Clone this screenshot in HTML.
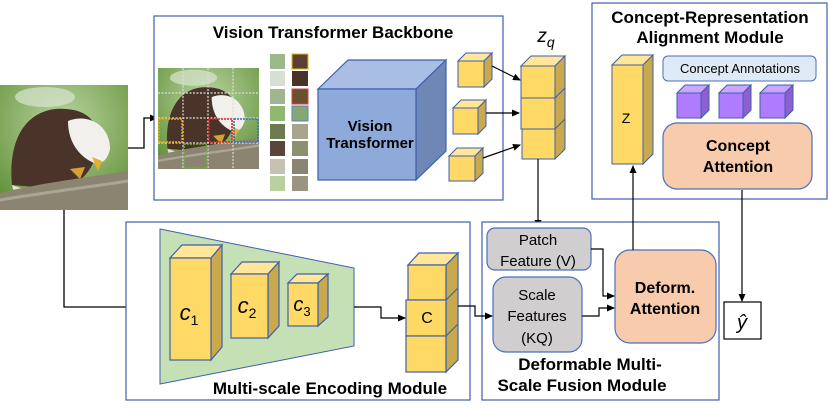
<!DOCTYPE html>
<html><head><meta charset="utf-8"><style>
html,body{margin:0;padding:0;background:#fff;width:830px;height:408px;overflow:hidden}
svg{display:block}
text{font-family:"Liberation Sans",sans-serif}
</style></head><body>
<svg width="830" height="408" viewBox="0 0 830 408" xmlns="http://www.w3.org/2000/svg">
<defs>
<marker id="ah" markerWidth="8" markerHeight="8" refX="7" refY="4" orient="auto" markerUnits="userSpaceOnUse"><path d="M0,0.5 L8,4 L0,7.5 z" fill="#000"/></marker>
<radialGradient id="bg" cx="0.5" cy="0.3" r="0.8"><stop offset="0" stop-color="#b9d3a0"/><stop offset="1" stop-color="#5e8f34"/></radialGradient>
<symbol id="eagle" viewBox="0 0 128 125" preserveAspectRatio="none">
<rect width="128" height="125" fill="url(#bg)"/>
<ellipse cx="45" cy="12" rx="30" ry="10" fill="#d8e6d0" opacity="0.7"/>
<path d="M12,100 C8,60 22,28 55,24 C85,22 100,35 98,60 C95,85 80,100 60,104 Z" fill="#4a342a"/>
<path d="M68,36 C88,28 110,40 110,64 C108,74 102,80 94,78 C80,72 68,58 68,36Z" fill="#f2f0ec"/>
<path d="M92,72 L102,76 L98,86 Z" fill="#e8b030"/>
<path d="M12,100 L30,106 L14,108Z" fill="#e8e2d0"/>
<path d="M70,84 L85,82 L80,94 Z" fill="#d9a030"/>
<path d="M0,108 C40,98 90,92 128,86 L128,125 L0,125 Z" fill="#8a8470"/>
<path d="M0,115 C40,108 90,102 128,96" stroke="#aaa595" stroke-width="3" fill="none"/>
</symbol>
</defs>

<use href="#eagle" x="0" y="85" width="128" height="125"/>
<path d="M128,148 H144 V118 H157" fill="none" stroke="#000" stroke-width="1.3" marker-end="url(#ah)"/>
<path d="M64,210 V307 H159" fill="none" stroke="#000" stroke-width="1.3" marker-end="url(#ah)"/>

<rect x="154" y="16" width="349" height="184" fill="#fff" stroke="#3f5fa8" stroke-width="1.2"/>
<text x="333" y="38" font-size="17" font-weight="bold" text-anchor="middle">Vision Transformer Backbone</text>
<use href="#eagle" x="158" y="68" width="101" height="101"/>
<g stroke="#ddd" stroke-width="1.2" stroke-dasharray="2,1.5" fill="none">
<path d="M183,68V169M208,68V169M233,68V169M158,93H259M158,118H259M158,143H259"/>
</g>
<g fill="none" stroke-width="1.5" stroke-dasharray="2,1">
<rect x="159" y="119" width="23" height="23" stroke="#e8a800"/>
<rect x="209" y="119" width="23" height="23" stroke="#e02020"/>
<rect x="234" y="119" width="24" height="23" stroke="#3a6fc0"/>
<rect x="184" y="144" width="23" height="24" stroke="#70b040"/>
</g>
<g>
<rect x="270" y="54" width="15" height="15" fill="#9bb88a"/><rect x="292" y="54" width="16" height="15" fill="#5a4030" stroke="#e8b800"/>
<rect x="270" y="71" width="15" height="15" fill="#d7dfd5"/><rect x="292" y="71" width="16" height="15" fill="#4a3428"/>
<rect x="270" y="89" width="15" height="15" fill="#a0b58f"/><rect x="292" y="89" width="16" height="15" fill="#6a5030" stroke="#d04040"/>
<rect x="270" y="106" width="15" height="15" fill="#8fb870"/><rect x="292" y="106" width="16" height="15" fill="#86a870" stroke="#5a80c0"/>
<rect x="270" y="124" width="15" height="15" fill="#6e7a50"/><rect x="292" y="124" width="16" height="15" fill="#a8a490"/>
<rect x="270" y="141" width="15" height="15" fill="#5a4538"/><rect x="292" y="141" width="16" height="15" fill="#8a9070"/>
<rect x="270" y="159" width="15" height="15" fill="#c8c0b0"/><rect x="292" y="159" width="16" height="15" fill="#8a8470"/>
<rect x="270" y="176" width="15" height="15" fill="#b8d0a0"/><rect x="292" y="176" width="16" height="15" fill="#9a9480"/>
</g>
<g stroke="#3f5fa8" stroke-width="1.2">
<path d="M318,89 L348,60 L446,60 L416,89 Z" fill="#a9bee5"/>
<path d="M416,89 L446,60 L446,151 L416,180 Z" fill="#6f87b5"/>
<rect x="318" y="89" width="98" height="91" fill="#8eaadb"/>
</g>
<text x="370" y="131" font-size="15" font-weight="bold" text-anchor="middle">Vision</text>
<text x="370" y="148" font-size="15" font-weight="bold" text-anchor="middle">Transformer</text>

<g stroke="#3f5fa8" stroke-width="1" fill="#ffd966">
<path d="M458,61 l8,-8 h26 l-8,8 z" fill="#ffe699"/><path d="M484,61 l8,-8 v26 l-8,8z" fill="#c9a94d"/><rect x="458" y="61" width="26" height="26"/>
<path d="M453,108 l8,-8 h25 l-8,8 z" fill="#ffe699"/><path d="M478,108 l8,-8 v26 l-8,8z" fill="#c9a94d"/><rect x="453" y="108" width="25" height="26"/>
<path d="M449,156 l8,-8 h26 l-8,8 z" fill="#ffe699"/><path d="M475,156 l8,-8 v25 l-8,8z" fill="#c9a94d"/><rect x="449" y="156" width="26" height="25"/>
</g>
<g stroke="#000" stroke-width="1.2" marker-end="url(#ah)">
<line x1="492" y1="66" x2="520" y2="80"/>
<line x1="486" y1="113" x2="519" y2="113"/>
<line x1="483" y1="158" x2="520" y2="145"/>
</g>
<g stroke="#3f5fa8" stroke-width="1" fill="#ffd966">
<path d="M521,66 l10,-10 h34 l-10,10z" fill="#ffe699"/>
<path d="M555,66 l10,-10 v93 l-10,10z" fill="#c9a94d"/>
<path d="M555,98 l10,-10 M555,129 l10,-10" fill="none"/>
<rect x="521" y="66" width="34" height="32"/><rect x="521" y="98" width="34" height="31"/><rect x="522" y="129" width="33" height="30"/>
</g>
<text x="546" y="42" font-size="19" font-style="italic" text-anchor="middle" font-family="Liberation Serif,serif">z<tspan font-size="14" dy="5">q</tspan></text>
<path d="M538,159 V227" stroke="#000" stroke-width="1.2" marker-end="url(#ah)"/>

<rect x="592" y="3" width="235" height="196" fill="#fff" stroke="#3f5fa8" stroke-width="1.2"/>
<text x="710" y="23" font-size="17" font-weight="bold" text-anchor="middle">Concept-Representation</text>
<text x="710" y="43" font-size="17" font-weight="bold" text-anchor="middle">Alignment Module</text>
<g stroke="#3f5fa8" stroke-width="1" fill="#ffd966">
<path d="M612,65 l10,-10 h31 l-10,10z" fill="#ffe699"/>
<path d="M643,65 l10,-10 v99 l-10,10z" fill="#c9a94d"/>
<rect x="612" y="65" width="31" height="99"/>
</g>
<text x="626" y="123" font-size="14" text-anchor="middle">Z</text>
<rect x="663" y="56" width="153" height="25" rx="5" fill="#deebf7" stroke="#4a6fbd"/>
<text x="740" y="73" font-size="13" text-anchor="middle">Concept  Annotations</text>
<g stroke="#3f5fa8" stroke-width="1" fill="#b07cff">
<path d="M677,93 l8,-8 h24 l-8,8z" fill="#c9a6ff"/><path d="M701,93 l8,-8 v25 l-8,8z" fill="#8e5fd0"/><rect x="677" y="93" width="24" height="25"/>
<path d="M719,93 l8,-8 h24 l-8,8z" fill="#c9a6ff"/><path d="M743,93 l8,-8 v25 l-8,8z" fill="#8e5fd0"/><rect x="719" y="93" width="24" height="25"/>
<path d="M760,93 l8,-8 h25 l-8,8z" fill="#c9a6ff"/><path d="M785,93 l8,-8 v25 l-8,8z" fill="#8e5fd0"/><rect x="760" y="93" width="25" height="25"/>
</g>
<rect x="663" y="123" width="149" height="66" rx="14" fill="#f8cbad" stroke="#4a6fbd" stroke-width="1.2"/>
<text x="738" y="151" font-size="16" font-weight="bold" text-anchor="middle">Concept</text>
<text x="738" y="172" font-size="16" font-weight="bold" text-anchor="middle">Attention</text>
<path d="M742,190 V301" stroke="#000" stroke-width="1.2" marker-end="url(#ah)"/>
<rect x="724" y="302" width="37" height="37" fill="#fff" stroke="#000" stroke-width="1.2"/>
<text x="742" y="329" font-size="20" font-style="italic" text-anchor="middle" font-family="Liberation Serif,serif">ŷ</text>

<rect x="482" y="222" width="237" height="178" fill="#fff" stroke="#3f5fa8" stroke-width="1.2"/>
<rect x="487" y="228" width="104" height="42" rx="8" fill="#d0cece" stroke="#4a6fbd" stroke-width="1.2"/>
<text x="538" y="245" font-size="15" text-anchor="middle">Patch</text>
<text x="538" y="266" font-size="15" text-anchor="middle">Feature (V)</text>
<rect x="493" y="277" width="89" height="75" rx="13" fill="#d0cece" stroke="#4a6fbd" stroke-width="1.2"/>
<text x="537" y="300" font-size="15" text-anchor="middle">Scale</text>
<text x="537" y="321" font-size="15" text-anchor="middle">Features</text>
<text x="537" y="343" font-size="15" text-anchor="middle">(KQ)</text>
<rect x="615" y="250" width="101" height="93" rx="15" fill="#f8cbad" stroke="#4a6fbd" stroke-width="1.2"/>
<text x="665" y="293" font-size="16" font-weight="bold" text-anchor="middle">Deform.</text>
<text x="665" y="314" font-size="16" font-weight="bold" text-anchor="middle">Attention</text>
<path d="M591,249 H603 V296 H614" fill="none" stroke="#000" stroke-width="1.2" marker-end="url(#ah)"/>
<path d="M582,316 H599 V308 H614" fill="none" stroke="#000" stroke-width="1.2" marker-end="url(#ah)"/>
<path d="M633,250 V166" stroke="#000" stroke-width="1.2" marker-end="url(#ah)"/>
<text x="590" y="370" font-size="17" font-weight="bold" text-anchor="middle">Deformable Multi-</text>
<text x="582" y="391" font-size="17" font-weight="bold" text-anchor="middle">Scale Fusion Module</text>

<rect x="126" y="222" width="344" height="178" fill="#fff" stroke="#3f5fa8" stroke-width="1.2"/>
<path d="M160,229 L354,268 L354,346 L160,384 Z" fill="#c5e0b4" stroke="#3f5fa8" stroke-width="1"/>
<g stroke="#3f5fa8" stroke-width="1.2" fill="#ffd966">
<path d="M170,258 l12,-13 h40 l-11,13z" fill="#ffe699"/><path d="M211,258 l11,-13 v102 l-11,13z" fill="#c9a94d"/><rect x="170" y="258" width="41" height="102"/>
<path d="M231,274 l11,-12 h37 l-11,12z" fill="#ffe699"/><path d="M268,274 l11,-12 v64 l-11,12z" fill="#c9a94d"/><rect x="231" y="274" width="37" height="64"/>
<path d="M288,283 l9,-9 h31 l-10,9z" fill="#ffe699"/><path d="M318,283 l10,-9 v43 l-10,9z" fill="#c9a94d"/><rect x="288" y="283" width="30" height="43"/>
</g>
<text x="189" y="320" font-size="22" font-style="italic" text-anchor="middle" font-family="Liberation Serif,serif">c<tspan font-size="14" dy="5" font-style="normal">1</tspan></text>
<text x="247" y="313" font-size="22" font-style="italic" text-anchor="middle" font-family="Liberation Serif,serif">c<tspan font-size="14" dy="5" font-style="normal">2</tspan></text>
<text x="302" y="311" font-size="20" font-style="italic" text-anchor="middle" font-family="Liberation Serif,serif">c<tspan font-size="13" dy="5" font-style="normal">3</tspan></text>
<text x="330" y="394" font-size="17" font-weight="bold" text-anchor="middle">Multi-scale Encoding Module</text>
<g stroke="#3f5fa8" stroke-width="1.2" fill="#ffd966">
<path d="M408,265 l11,-12 h39 l-12,12z" fill="#ffe699"/>
<path d="M446,265 l12,-12 v107 l-12,12z" fill="#c9a94d"/>
<path d="M446,300 l12,-12 M446,336 l12,-12" fill="none"/>
<rect x="408" y="265" width="38" height="35"/><rect x="406" y="300" width="40" height="36"/><rect x="406" y="336" width="40" height="36"/>
</g>
<text x="427" y="323" font-size="16" text-anchor="middle">C</text>
<path d="M354,307 H381 V318 H405" fill="none" stroke="#000" stroke-width="1.2" marker-end="url(#ah)"/>
<path d="M458,306 H475 V316 H492" fill="none" stroke="#000" stroke-width="1.2" marker-end="url(#ah)"/>
</svg>
</body></html>
